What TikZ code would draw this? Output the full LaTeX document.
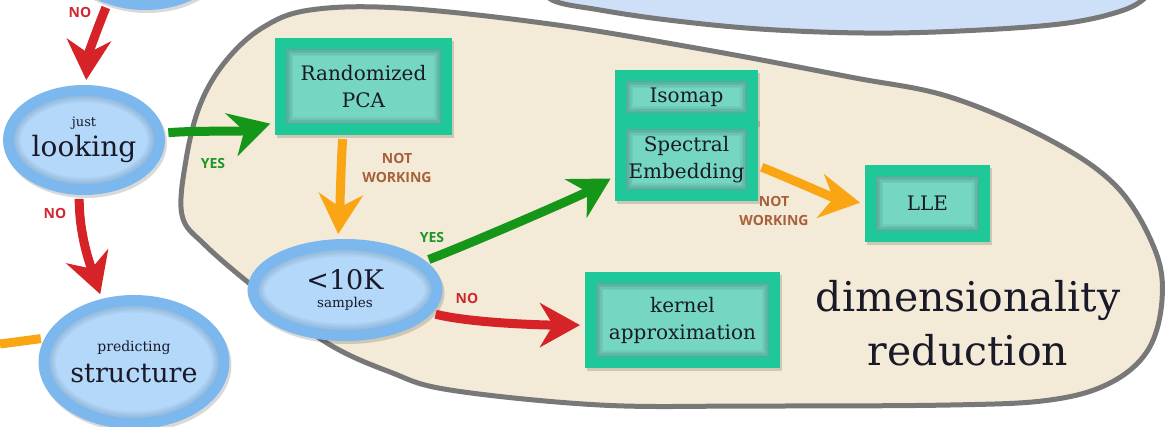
\documentclass[tikz,border=0pt]{standalone}
\usepackage{fontspec}
\setmainfont{DejaVu Serif}
\newfontfamily\labfont{Open Sans}
\usetikzlibrary{arrows.meta,shadows,calc,shapes.geometric}
\newcommand\fsz[2]{\fontsize{#1}{#2}\selectfont}
\definecolor{ringb}{RGB}{124,184,238}
\definecolor{innerb}{RGB}{180,216,250}
\definecolor{tealb}{RGB}{30,200,152}
\definecolor{tealin}{RGB}{118,215,192}
\definecolor{beige}{RGB}{243,235,215}
\definecolor{blobgray}{RGB}{120,120,120}
\definecolor{topblue}{RGB}{206,223,248}
\definecolor{redar}{RGB}{214,35,40}
\definecolor{greenar}{RGB}{22,150,24}
\definecolor{orangear}{RGB}{250,166,20}
\definecolor{txt}{RGB}{25,25,40}
\definecolor{redlab}{RGB}{208,40,48}
\definecolor{greenlab}{RGB}{30,150,40}
\definecolor{brownlab}{RGB}{168,96,56}
\begin{document}
\begin{tikzpicture}[x=1pt,y=-1pt,
  shad/.style={drop shadow={shadow xshift=2pt, shadow yshift=-3pt, opacity=0.15, fill=black, draw=black, line width=11pt}},
  ellring/.style={line width=#1, draw=ringb!55!black, opacity=0.06},
  ell/.style={ellipse, draw=ringb, line width=11pt, fill=innerb, inner sep=0pt, align=center, text=txt, shad,
    path picture={\foreach \w in {24,21,18,15}{\draw[ellring=\w pt] let \p1=($(path picture bounding box.north east)-(path picture bounding box.center)$) in (path picture bounding box.center) ellipse [x radius=\x1, y radius=\y1];}}},
  boxring/.style={line width=#1, draw=black!60!teal, opacity=0.06},
  algbox/.style={rectangle, draw=tealb, line width=11pt, fill=tealin, inner sep=0pt, align=center, text=txt, shad,
    font=\fsz{20}{27},
    path picture={\foreach \w in {25,22,19,16,13}{\draw[boxring=\w pt] (path picture bounding box.south west) rectangle (path picture bounding box.north east);}}},
  arr/.style={line width=9pt, -{Stealth[length=40pt, width=44pt, inset=13pt]}, shorten <=4pt, shorten >=5pt},
  lab/.style={font=\labfont\bfseries\fsz{14}{19}, align=center, inner sep=0pt}
]
\useasboundingbox (0,0) rectangle (1165,426);
\clip (0,0) rectangle (1165,426);
\fill[white] (0,0) rectangle (1165,426);

% dimensionality reduction region
\draw[fill=beige, draw=blobgray, line width=5pt] plot[smooth cycle, tension=0.6] coordinates {
 (182,215) (186,160) (200,105) (225,62) (262,28) (310,10) (400,8) (550,24) (707,50) (850,77)
 (950,97) (1050,140) (1117,187) (1155,250) (1162,300) (1148,350) (1110,383) (1050,400) (950,405)
 (750,406) (600,405) (450,390) (390,372) (327,343) (260,292) (205,245)};

% region at top right
\draw[fill=topblue, draw=blobgray, line width=5pt] plot[smooth, tension=0.6] coordinates {
 (540,-20) (552,0) (600,10) (668,20) (760,29) (864,33) (960,31) (1060,24) (1118,12) (1145,-2) (1155,-20)} -- cycle;

% ellipses
\node[ell, minimum width=159pt, minimum height=109pt] (topell) at (145,-50) {};
\node[ell, minimum width=151pt, minimum height=99pt] (looking) at (84,140)
  {\fsz{13}{15}just\\[5pt]\fsz{28}{28}looking};
\node[ell, minimum width=171pt, minimum height=123pt] (struct) at (134,362)
  {\fsz{14}{16}predicting\\[9pt]\fsz{27}{27}structure};
\node[ell, minimum width=184pt, minimum height=91pt] (tenk) at (345,290)
  {\fsz{27}{27}<10K\\[6pt]\fsz{13.5}{15}samples};

% algorithm boxes
\node[algbox, minimum width=166pt, minimum height=86pt] (rpca) at (363.5,86.5) {Randomized\\PCA};
\node[algbox, minimum width=132pt, minimum height=43pt] (isomap) at (686.5,97) {Isomap};
\node[algbox, minimum width=132pt, minimum height=72pt] (spec) at (686.5,159.5) {Spectral\\Embedding};
\node[algbox, minimum width=114pt, minimum height=66pt] (lle) at (927.5,203.5) {LLE};
\node[algbox, minimum width=184pt, minimum height=85pt] (kernel) at (682.5,320) {kernel\\approximation};

\node[font=\fsz{41}{54}, align=center, text=txt, inner sep=0pt] (title) at (968,323) {dimensionality\\reduction};

% connectors
\coordinate (leftin) at (0,344);
\draw[orangear, line width=9pt, shorten >=4pt] (leftin) -- (struct.165);
\draw[arr, redar] (topell.235) .. controls +(-12,30) and +(2,-30) .. (looking.88);
\draw[arr, redar] (looking.265) .. controls +(0,40) and +(-12,-35) .. (struct.117);
\draw[arr, greenar] (looking.5) .. controls +(40,-3) and +(-35,10) .. (rpca.202);
\draw[arr, orangear] (rpca.247) .. controls +(-2,30) and +(2,-30) .. (tenk.98);
\draw[arr, greenar] (tenk.20) .. controls +(40,-15) and +(-35,20) .. (spec.193);
\draw[arr, redar] (tenk.-15) .. controls +(40,10) and +(-40,0) .. (kernel.183);
\draw[arr, orangear] (spec.355) .. controls +(30,12) and +(-30,-5) .. (lle.west);

% labels
\node[lab, text=redlab] (no1) at (80,12) {NO};
\node[lab, text=redlab] (no2) at (55,213) {NO};
\node[lab, text=greenlab] (yes1) at (213,163) {YES};
\node[lab, text=brownlab] (nw1) at (397,168) {NOT\\WORKING};
\node[lab, text=greenlab] (yes2) at (432,237) {YES};
\node[lab, text=redlab] (no3) at (467,298) {NO};
\node[lab, text=brownlab] (nw2) at (774,211) {NOT\\WORKING};
\end{tikzpicture}
\end{document}
